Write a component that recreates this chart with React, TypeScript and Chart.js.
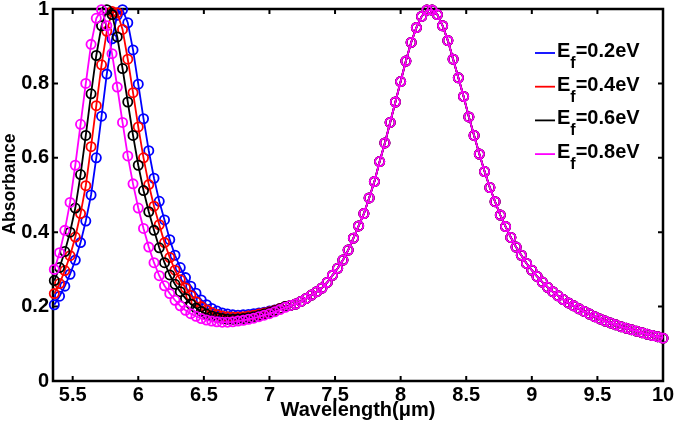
import React, { useEffect, useRef } from "react";
import { Chart, registerables } from "chart.js";

Chart.register(...registerables);

// Wavelength samples (µm)
const wavelength = [
  5.36, 5.40, 5.44, 5.48, 5.52, 5.56, 5.60, 5.64, 5.68, 5.72,
  5.76, 5.80, 5.84, 5.88, 5.92, 5.96, 6.00, 6.04, 6.08, 6.12,
  6.16, 6.20, 6.24, 6.28, 6.32, 6.36, 6.40, 6.44, 6.48, 6.52,
  6.56, 6.60, 6.64, 6.68, 6.72, 6.76, 6.80, 6.84, 6.88, 6.92,
  6.96, 7.00, 7.04, 7.08, 7.12,
  7.16, 7.20, 7.24, 7.28, 7.32, 7.36, 7.40, 7.44, 7.48, 7.52,
  7.56, 7.60, 7.64, 7.68, 7.72, 7.76, 7.80, 7.84, 7.88, 7.92,
  7.96, 8.00, 8.04, 8.08, 8.12, 8.16, 8.20, 8.24, 8.28, 8.32,
  8.36, 8.40, 8.44, 8.48, 8.52, 8.56, 8.60, 8.64, 8.68, 8.72,
  8.76, 8.80, 8.84, 8.88, 8.92, 8.96, 9.00, 9.04, 9.08, 9.12,
  9.16, 9.20, 9.24, 9.28, 9.32, 9.36, 9.40, 9.44, 9.48, 9.52,
  9.56, 9.60, 9.64, 9.68, 9.72, 9.76, 9.80, 9.84, 9.88, 9.92,
  9.96, 10.00,
];

// Absorbance, 5.36 – 7.12 µm (series-specific part)
const absEf02Left = [
  0.205, 0.228, 0.255, 0.287, 0.325, 0.372, 0.430, 0.500, 0.600, 0.712,
  0.825, 0.920, 0.983, 0.998, 0.963, 0.890, 0.798, 0.705, 0.619, 0.545,
  0.483, 0.433, 0.380, 0.338, 0.305, 0.278, 0.255, 0.236, 0.218, 0.205,
  0.195, 0.188, 0.183, 0.180, 0.178, 0.177, 0.178, 0.179, 0.181, 0.183,
  0.185, 0.188, 0.191, 0.195, 0.200,
];
const absEf04Left = [
  0.235, 0.262, 0.297, 0.337, 0.387, 0.450, 0.525, 0.630, 0.740, 0.850,
  0.940, 0.993, 0.990, 0.945, 0.865, 0.775, 0.683, 0.600, 0.528, 0.470,
  0.420, 0.372, 0.332, 0.298, 0.272, 0.250, 0.230, 0.213, 0.200, 0.191,
  0.184, 0.179, 0.175, 0.173, 0.172, 0.172, 0.173, 0.175, 0.177, 0.180,
  0.183, 0.186, 0.190, 0.195, 0.200,
];
const absEf06Left = [
  0.270, 0.305, 0.348, 0.400, 0.465, 0.555, 0.660, 0.772, 0.875, 0.955,
  0.998, 0.985, 0.925, 0.840, 0.750, 0.660, 0.580, 0.512, 0.455, 0.405,
  0.358, 0.318, 0.285, 0.260, 0.240, 0.222, 0.207, 0.196, 0.187, 0.180,
  0.175, 0.171, 0.168, 0.166, 0.166, 0.167, 0.168, 0.170, 0.173, 0.176,
  0.180, 0.184, 0.189, 0.194, 0.200,
];
const absEf08Left = [
  0.300, 0.345, 0.405, 0.480, 0.580, 0.690, 0.800, 0.905, 0.975, 0.998,
  0.955, 0.880, 0.790, 0.695, 0.605, 0.530, 0.465, 0.410, 0.360, 0.318,
  0.283, 0.256, 0.235, 0.217, 0.202, 0.190, 0.181, 0.174, 0.168, 0.164,
  0.161, 0.159, 0.158, 0.158, 0.159, 0.161, 0.163, 0.166, 0.169, 0.173,
  0.177, 0.181, 0.186, 0.192, 0.198,
];
// Absorbance, 7.16 – 10.00 µm (identical for all four Fermi levels)
const absShared = [
  0.203, 0.207, 0.214, 0.222, 0.231, 0.240, 0.250, 0.265, 0.284, 0.303,
  0.325, 0.352, 0.384, 0.417, 0.450, 0.492, 0.536, 0.590, 0.640, 0.695,
  0.750, 0.805, 0.860, 0.910, 0.950, 0.980, 0.997, 0.997, 0.985, 0.955,
  0.915, 0.865, 0.815, 0.765, 0.710, 0.660, 0.610, 0.563, 0.520, 0.482,
  0.446, 0.415, 0.386, 0.360, 0.338, 0.316, 0.298, 0.281, 0.266, 0.252,
  0.240, 0.229, 0.219, 0.210, 0.202, 0.194, 0.187, 0.180, 0.173, 0.167,
  0.161, 0.156, 0.151, 0.146, 0.142, 0.138, 0.134, 0.130, 0.126, 0.122,
  0.119, 0.115,
];

const seriesLeft = [absEf02Left, absEf04Left, absEf06Left, absEf08Left];
const seriesValues = ["=0.2eV", "=0.4eV", "=0.6eV", "=0.8eV"];
const seriesColors = ["#0000ff", "#ff0000", "#000000", "#ff00ff"];

const xTicks = [5.5, 6, 6.5, 7, 7.5, 8, 8.5, 9, 9.5, 10];
const yTicks = [0, 0.2, 0.4, 0.6, 0.8, 1];
const xTitle = "Wavelength(μm)";
const yTitle = "Absorbance";

const FONT = "'Liberation Sans', Arial, Helvetica, sans-serif";

function buildPoints(left: number[]) {
  const ys = left.concat(absShared);
  return wavelength.map((x, i) => ({ x, y: ys[i] }));
}

const framePlugin = {
  id: "matlabFrame",
  beforeDatasetsDraw(chart: any) {
    const { ctx, chartArea: a, scales } = chart;
    ctx.save();
    ctx.strokeStyle = "#000";
    ctx.lineWidth = 2.5;
    ctx.strokeRect(a.left, a.top, a.right - a.left, a.bottom - a.top);
    ctx.lineWidth = 2;
    ctx.beginPath();
    for (const v of xTicks) {
      const px = scales.x.getPixelForValue(v);
      ctx.moveTo(px, a.bottom);
      ctx.lineTo(px, a.bottom - 5);
      ctx.moveTo(px, a.top);
      ctx.lineTo(px, a.top + 5);
    }
    for (const v of yTicks) {
      const py = scales.y.getPixelForValue(v);
      ctx.moveTo(a.left, py);
      ctx.lineTo(a.left + 5, py);
      ctx.moveTo(a.right, py);
      ctx.lineTo(a.right - 5, py);
    }
    ctx.stroke();
    ctx.restore();
  },
  afterDraw(chart: any) {
    const { ctx, chartArea: a } = chart;
    ctx.save();
    ctx.fillStyle = "#000";
    // x title
    ctx.font = `bold 20px ${FONT}`;
    ctx.textAlign = "center";
    ctx.textBaseline = "alphabetic";
    ctx.fillText(xTitle, (a.left + a.right) / 2, 416);
    // y title
    ctx.save();
    ctx.translate(15, 184);
    ctx.rotate(-Math.PI / 2);
    ctx.font = `bold 17.5px ${FONT}`;
    ctx.textAlign = "center";
    ctx.textBaseline = "alphabetic";
    ctx.fillText(yTitle, 0, 0);
    ctx.restore();
    // legend
    ctx.textAlign = "left";
    for (let i = 0; i < seriesValues.length; i++) {
      const base = 57 + 33.7 * i;
      ctx.strokeStyle = seriesColors[i];
      ctx.lineWidth = 1.8;
      ctx.beginPath();
      ctx.moveTo(535, base - 4);
      ctx.lineTo(555, base - 4);
      ctx.stroke();
      ctx.fillStyle = "#000";
      ctx.font = `bold 20px ${FONT}`;
      let x = 557;
      ctx.fillText("E", x, base);
      x += ctx.measureText("E").width;
      ctx.font = `bold 16px ${FONT}`;
      ctx.fillText("f", x, base + 11);
      x += ctx.measureText("f").width;
      ctx.font = `bold 20px ${FONT}`;
      ctx.fillText(seriesValues[i], x, base);
    }
    ctx.restore();
  },
};

export default function App() {
  const canvasRef = useRef<HTMLCanvasElement | null>(null);

  useEffect(() => {
    const canvas = canvasRef.current;
    if (!canvas) return;
    const datasets = seriesLeft.map((left, i) => ({
      label: "Ef" + seriesValues[i],
      data: buildPoints(left),
      showLine: true,
      borderColor: seriesColors[i],
      borderWidth: 1.8,
      pointRadius: 4.6,
      pointBorderWidth: 1.8,
      pointBorderColor: seriesColors[i],
      pointBackgroundColor: "rgba(0,0,0,0)",
      pointStyle: "circle",
      tension: 0,
      clip: false as any,
      order: seriesLeft.length - 1 - i,
    }));

    const chart = new Chart(canvas, {
      type: "scatter",
      data: { datasets },
      plugins: [framePlugin],
      options: {
        responsive: false,
        animation: false,
        devicePixelRatio: 1,
        events: [],
        layout: { padding: { top: 9, right: 12, left: 0, bottom: 0 } },
        plugins: {
          legend: { display: false },
          tooltip: { enabled: false },
        },
        scales: {
          x: {
            type: "linear",
            min: 5.35,
            max: 10,
            grid: { display: false, drawTicks: false },
            border: { display: false },
            afterBuildTicks: (s: any) => {
              s.ticks = xTicks.map((v) => ({ value: v }));
            },
            afterFit: (s: any) => {
              s.height = 45;
              s.paddingLeft = 0;
              s.paddingRight = 0;
            },
            ticks: {
              autoSkip: false,
              maxRotation: 0,
              padding: 2,
              color: "#000",
              font: { family: FONT, size: 20, weight: "bold" },
              callback: (v: any) => String(v),
            },
          },
          y: {
            type: "linear",
            min: 0,
            max: 1,
            grid: { display: false, drawTicks: false },
            border: { display: false },
            afterBuildTicks: (s: any) => {
              s.ticks = yTicks.map((v) => ({ value: v }));
            },
            afterFit: (s: any) => {
              s.width = 53;
              s.paddingTop = 0;
              s.paddingBottom = 0;
            },
            ticks: {
              padding: 4,
              color: "#000",
              font: { family: FONT, size: 20, weight: "bold" },
              callback: (v: any) => (v === 0 ? "0" : v === 1 ? "1" : Number(v).toFixed(1)),
            },
          },
        },
      } as any,
    });
    return () => chart.destroy();
  }, []);

  return (
    <div style={{ position: "fixed", left: 0, top: 0, width: 675, height: 426, background: "#fff" }}>
      <canvas ref={canvasRef} width={675} height={426} style={{ display: "block" }} />
    </div>
  );
}
